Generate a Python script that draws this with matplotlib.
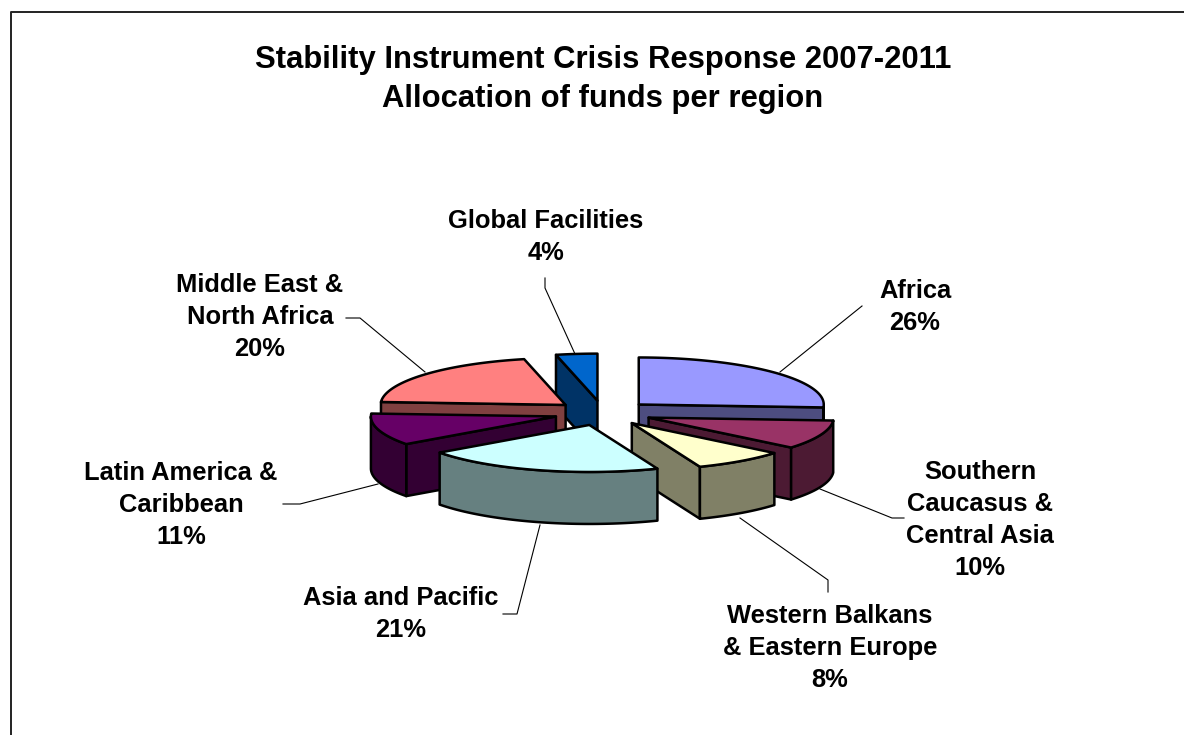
import numpy as np
import matplotlib
matplotlib.use("Agg")
import matplotlib.pyplot as plt
from matplotlib.patches import Polygon

plt.rcParams['font.family'] = ['Liberation Sans', 'DejaVu Sans']

title_lines = ["Stability Instrument Crisis Response 2007-2011", "Allocation of funds per region"]
regions = ["Africa", "Southern\nCaucasus &\nCentral Asia", "Western Balkans\n& Eastern Europe",
           "Asia and Pacific", "Latin America &\nCaribbean", "Middle East &\nNorth Africa", "Global Facilities"]
shares = [26, 10, 8, 21, 11, 20.4, 3.6]
top_colors = ["#9999FF", "#993366", "#FFFFCC", "#CCFFFF", "#660066", "#FF8080", "#0066CC"]
wall_colors = ["#4D4D80", "#4C1A33", "#808066", "#668080", "#330033", "#804040", "#003366"]
draw_order = [6, 5, 0, 4, 1, 2, 3]

CX, CY, RX, RY, H, EXPLODE = 603, 413, 185, 47, 52, 0.265
LW = 1.8

label_pos = [(915, 307), (980, 520), (830, 648), (401, 614), (181, 505), (260, 317), (546, 237)]
leaders = [
    [(780, 372), (862, 306)],
    [(820, 489), (892, 518), (904, 518)],
    [(740, 518), (828, 580), (828, 592)],
    [(540, 525), (517, 614), (503, 614)],
    [(378, 484), (300, 504), (283, 504)],
    [(425, 372), (360, 318), (346, 318)],
    [(575, 354), (545, 288), (545, 278)],
]

fig = plt.figure(figsize=(11.84, 7.35), dpi=100)
ax = fig.add_axes([0, 0, 1, 1])
ax.set_xlim(0, 1184)
ax.set_ylim(735, 0)
ax.axis("off")

# chart frame: only the left and top sides show on the page
ax.plot([11, 11, 1190], [740, 12, 12], color="#222222", lw=1.4, solid_capstyle="butt")


def pt(ax_x, ax_y, deg, rx=RX, ry=RY):
    t = np.radians(deg)
    return ax_x + rx * np.sin(t), ax_y - ry * np.cos(t)


edges = np.concatenate([[0], np.cumsum(shares)]) / np.sum(shares) * 360
for i in draw_order:
    a0, a1 = edges[i], edges[i + 1]
    mid = (a0 + a1) / 2
    ox, oy = pt(CX, CY, mid, RX * EXPLODE, RY * EXPLODE)
    style = dict(edgecolor="black", lw=LW, joinstyle="round")
    # radial cut faces that look towards the viewer
    for edge, normal in ((a0, a0 - 90), (a1, a1 + 90)):
        if np.cos(np.radians(normal)) < -1e-6:
            ex, ey = pt(ox, oy, edge)
            ax.add_patch(Polygon([(ox, oy), (ex, ey), (ex, ey + H), (ox, oy + H)],
                                 facecolor=wall_colors[i], **style))
    # outer rim, the part on the front half of the ellipse
    lo, hi = max(a0, 90), min(a1, 270)
    if hi > lo:
        th = np.linspace(lo, hi, 60)
        xs, ys = pt(ox, oy, th)
        rim = list(zip(xs, ys)) + list(zip(xs[::-1], ys[::-1] + H))
        ax.add_patch(Polygon(rim, facecolor=wall_colors[i], **style))
    # top face
    th = np.linspace(a0, a1, 90)
    xs, ys = pt(ox, oy, th)
    ax.add_patch(Polygon([(ox, oy)] + list(zip(xs, ys)), facecolor=top_colors[i], **style))

for line in leaders:
    xs, ys = zip(*line)
    ax.plot(xs, ys, color="black", lw=0.8, zorder=1)

for name, share, (x, y) in zip(regions, shares, label_pos):
    ax.text(x, y, f"{name}\n{round(share)}%", ha="center", va="center", fontsize=18.4,
            fontweight="bold", linespacing=1.43, color="black")

ax.text(603, 79.5, "\n".join(title_lines), ha="center", va="center", fontsize=22.3,
        fontweight="bold", linespacing=1.41, color="black")

fig.savefig("out.png", dpi=100, facecolor="white")
